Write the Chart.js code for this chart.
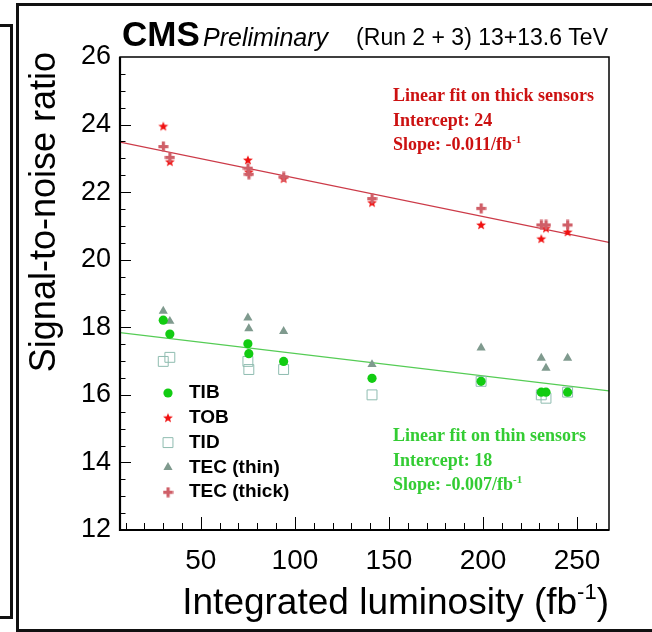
<!DOCTYPE html>
<html>
<head>
<meta charset="utf-8">
<script src="https://cdn.jsdelivr.net/npm/chart.js@4.4.1/dist/chart.umd.min.js"></script>
<style>
  html, body { margin: 0; padding: 0; background: #fff; }
  body { width: 652px; height: 632px; position: relative; overflow: hidden; }
  .frame { position: absolute; border: 3px solid #111; box-sizing: border-box; }
  #snr { position: absolute; left: 0; top: 0; }
</style>
</head>
<body>
<div class="frame" style="left:-10px; top:24px; width:23px; height:595px;"></div>
<div class="frame" style="left:16px; top:3px; width:660px; height:629px;"></div>
<canvas id="snr" width="652" height="632"></canvas>
<script>
// integrated luminosity of each measurement (fb^-1)
const lumi = [30, 33.5, 75, 75.5, 94, 141, 199, 231, 233.5, 245];
// signal-to-noise per partition
const tib = [18.21, 17.8, 17.51, 17.22, 16.99, 16.49, 16.4, 16.08, 16.08, 16.08];
const tob = [23.95, 22.9, 22.95, 22.6, 22.4, 21.69, 21.03, 20.62, 20.93, 20.82];
const tid = [16.99, 17.11, 16.99, 16.75, 16.75, 16.0, 16.4, 16.0, 15.9, 16.08];
const tecThin = [18.48, 18.18, 18.28, 17.96, 17.88, 16.9, 17.39, 17.09, 16.79, 17.09];
const tecThick = [23.35, 23.03, 22.71, 22.53, 22.45, 21.81, 21.52, 21.03, 21.03, 21.03];
// fit lines, end points
const fitX = [7, 267];
const thickFit = [23.48, 20.51];
const thinFit = [17.84, 16.12];
// axes
const xRange = [7, 267];
const yRange = [12, 26];
const xTicks = [50, 100, 150, 200, 250];
const yTicks = [12, 14, 16, 18, 20, 22, 24, 26];

const pts = (ys) => lumi.map((x, i) => ({ x: x, y: ys[i] }));
const line = (ys) => fitX.map((x, i) => ({ x: x, y: ys[i] }));

// filled star and thick cross like the ROOT markers
function starMarker(color) {
  const c = document.createElement("canvas");
  c.width = 12; c.height = 12;
  const g = c.getContext("2d");
  g.fillStyle = color;
  g.beginPath();
  for (let i = 0; i < 10; i++) {
    const r = i % 2 === 0 ? 5.2 : 2.2;
    const a = -Math.PI / 2 + i * Math.PI / 5;
    g.lineTo(6 + r * Math.cos(a), 6.4 + r * Math.sin(a));
  }
  g.closePath();
  g.fill();
  return c;
}
function crossMarker(color) {
  const c = document.createElement("canvas");
  c.width = 11; c.height = 11;
  const g = c.getContext("2d");
  g.fillStyle = color;
  g.fillRect(4, 0.5, 3.2, 10);
  g.fillRect(0.5, 4, 10, 3.2);
  return c;
}

const series = [
  { label: "TEC (thick)", data: pts(tecThick), pointStyle: crossMarker("#cf5f68"), backgroundColor: "#cf5f68", borderColor: "#cf5f68" },
  { label: "TOB", data: pts(tob), pointStyle: starMarker("#f01010"), backgroundColor: "#f01010", borderColor: "#f01010" },
  { label: "TIB", data: pts(tib), pointStyle: "circle", pointRadius: 4.6, backgroundColor: "#12cc12", borderColor: "#12cc12", pointBorderWidth: 0 },
  { label: "TEC (thin)", data: pts(tecThin), pointStyle: "triangle", pointRadius: 5.3, backgroundColor: "#7f9a8e", borderColor: "#7f9a8e", pointBorderWidth: 0 },
  { label: "TID", data: pts(tid), pointStyle: "rect", pointRadius: 7, backgroundColor: "rgba(0,0,0,0)", borderColor: "#8fbcb0", pointBorderWidth: 1 }
];
const legendOrder = ["TIB", "TOB", "TID", "TEC (thin)", "TEC (thick)"];

const datasets = series.map(s => Object.assign({ showLine: false, pointRadius: 5 }, s));
datasets.push({ label: "thick fit", data: line(thickFit), showLine: true, borderColor: "#cc3a48", borderWidth: 1.3, pointRadius: 0 });
datasets.push({ label: "thin fit", data: line(thinFit), showLine: true, borderColor: "#55cc55", borderWidth: 1.3, pointRadius: 0 });

// text with superscripts: parts = [[text, isSup], ...]
function richText(ctx, parts, x, y, font, supFont, rise, align) {
  let w = 0;
  parts.forEach(p => { ctx.font = p[1] ? supFont : font; w += ctx.measureText(p[0]).width; });
  let cx = align === "right" ? x - w : x;
  ctx.textAlign = "left";
  parts.forEach(p => {
    ctx.font = p[1] ? supFont : font;
    ctx.fillText(p[0], cx, p[1] ? y - rise : y);
    cx += ctx.measureText(p[0]).width;
  });
}

const rootStyle = {
  id: "rootStyle",
  afterDraw(chart) {
    const { ctx, chartArea: a, scales } = chart;
    const x = scales.x, y = scales.y;
    ctx.save();
    ctx.strokeStyle = "#000";
    ctx.fillStyle = "#000";

    // ticks inside the frame
    ctx.lineWidth = 1;
    ctx.beginPath();
    for (let v = 10; v < xRange[1]; v += 10) {
      const px = Math.round(x.getPixelForValue(v)) + 0.5;
      const len = v % 50 === 0 ? 13 : 7;
      ctx.moveTo(px, a.bottom); ctx.lineTo(px, a.bottom - len);
    }
    for (let v = yRange[0] + 0.5; v < yRange[1]; v += 0.5) {
      const py = Math.round(y.getPixelForValue(v)) + 0.5;
      const len = v % 2 === 0 ? 11 : 5.5;
      ctx.moveTo(a.left, py); ctx.lineTo(a.left + len, py);
    }
    ctx.stroke();

    // frame
    ctx.lineWidth = 1.5;
    ctx.strokeRect(a.left, a.top, a.right - a.left, a.bottom - a.top);
    ctx.lineWidth = 2.2;
    ctx.beginPath();
    ctx.moveTo(a.left, a.top); ctx.lineTo(a.left, a.bottom); ctx.lineTo(a.right, a.bottom);
    ctx.stroke();

    // axis titles
    ctx.textBaseline = "alphabetic";
    richText(ctx, [["Integrated luminosity (fb", false], ["-1", true], [")", false]],
      a.right, 614, "37px 'Liberation Sans'", "22px 'Liberation Sans'", 15, "right");
    ctx.save();
    ctx.translate(55, a.top - 5);
    ctx.rotate(-Math.PI / 2);
    ctx.font = "36px 'Liberation Sans'";
    ctx.textAlign = "right";
    ctx.fillText("Signal-to-noise ratio", 0, 0);
    ctx.restore();

    // header
    ctx.textAlign = "left";
    ctx.font = "bold 35px 'Liberation Sans'";
    ctx.fillText("CMS", 122, 46);
    ctx.font = "italic 25px 'Liberation Sans'";
    ctx.fillText("Preliminary", 203, 46);
    ctx.font = "23px 'Liberation Sans'";
    ctx.textAlign = "right";
    ctx.fillText("(Run 2 + 3) 13+13.6 TeV", 608, 45);

    // legend
    ctx.textBaseline = "middle";
    legendOrder.forEach((name, i) => {
      const idx = series.findIndex(s => s.label === name);
      const o = chart.getDatasetMeta(idx).data[0].options;
      const ly = 393 + i * 24.8;
      ctx.fillStyle = o.backgroundColor;
      ctx.strokeStyle = o.borderColor;
      ctx.lineWidth = o.borderWidth;
      Chart.helpers.drawPoint(ctx, {
        pointStyle: o.pointStyle,
        radius: o.radius,
        borderWidth: o.borderWidth,
        rotation: 0
      }, 168, ly);
      ctx.fillStyle = "#000";
      ctx.font = "bold 19px 'Liberation Sans'";
      ctx.textAlign = "left";
      ctx.fillText(name, 189, ly);
    });

    // fit notes
    ctx.textBaseline = "alphabetic";
    const serif = "bold 18px 'Liberation Serif'", serifSup = "bold 11px 'Liberation Serif'";
    ctx.fillStyle = "#cc1111";
    ctx.font = serif;
    ctx.textAlign = "left";
    ctx.fillText("Linear fit on thick sensors", 393, 101);
    ctx.fillText("Intercept: 24", 393, 126);
    richText(ctx, [["Slope: -0.011/fb", false], ["-1", true]], 393, 150, serif, serifSup, 7, "left");
    ctx.fillStyle = "#33cc33";
    ctx.font = serif;
    ctx.fillText("Linear fit on thin sensors", 393, 441);
    ctx.fillText("Intercept: 18", 393, 466);
    richText(ctx, [["Slope: -0.007/fb", false], ["-1", true]], 393, 490, serif, serifSup, 7, "left");
    ctx.restore();
  }
};

new Chart(document.getElementById("snr"), {
  type: "scatter",
  data: { datasets: datasets },
  options: {
    responsive: false,
    animation: false,
    layout: { padding: { top: 57, right: 43, left: 0, bottom: 0 } },
    plugins: { legend: { display: false }, tooltip: { enabled: false } },
    scales: {
      x: {
        type: "linear", min: xRange[0], max: xRange[1],
        afterBuildTicks: s => { s.ticks = xTicks.map(v => ({ value: v })); },
        afterFit: s => { s.height = 102; },
        grid: { display: false, drawTicks: false },
        border: { display: false },
        ticks: { autoSkip: false, maxRotation: 0, padding: 14, color: "#000", font: { family: "Liberation Sans", size: 28 } }
      },
      y: {
        type: "linear", min: yRange[0], max: yRange[1],
        afterBuildTicks: s => { s.ticks = yTicks.map(v => ({ value: v })); },
        afterFit: s => { s.width = 120; },
        grid: { display: false, drawTicks: false },
        border: { display: false },
        ticks: { autoSkip: false, padding: 9, color: "#000", font: { family: "Liberation Sans", size: 27 } }
      }
    }
  },
  plugins: [rootStyle]
});
</script>
</body>
</html>
